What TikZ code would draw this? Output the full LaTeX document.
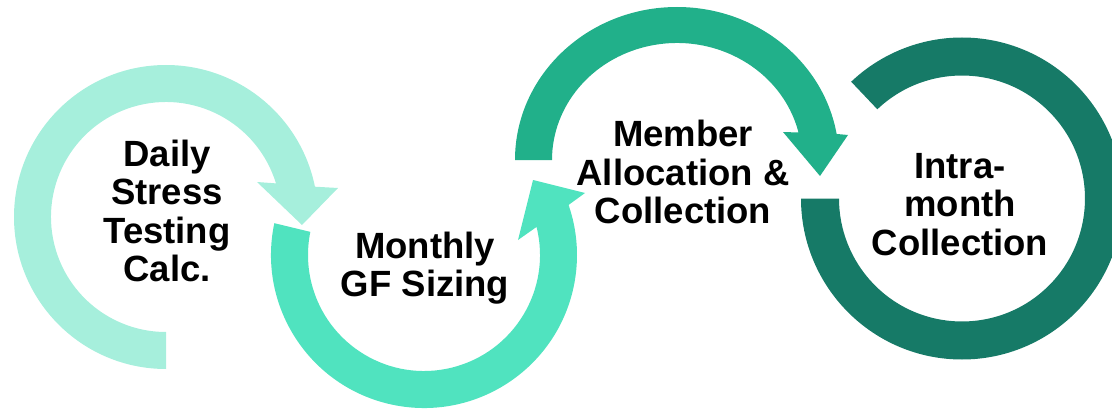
\documentclass[tikz,border=0pt]{standalone}
\usepackage{fontspec}
\setmainfont{Liberation Sans}

\definecolor{mint}{HTML}{A6EFDC}
\definecolor{aqua}{HTML}{50E3BF}
\definecolor{jade}{HTML}{21B08A}
\definecolor{deepteal}{HTML}{167A67}

\tikzstyle{stage} = [align=center, inner sep=0pt, font=\fontsize{36.5}{38.5}\selectfont\bfseries]

\begin{document}
\begin{tikzpicture}[x=1pt, y=1pt]
      \useasboundingbox (0,0) rectangle (1112,408);
      \clip (0,0) rectangle (1112,408);
      % daily loop, clockwise from the bottom
      \begin{scope}[shift={(166,191)}]
        \fill[mint] (270:152) arc[start angle=270, end angle=11.5, radius=152]
          -- (172,29) -- (136,-8) -- (91,35)
          -- (17:115) arc[start angle=17, end angle=270, radius=115] -- cycle;
      \end{scope}
      % monthly loop, under and back up
      \begin{scope}[shift={(424,153)}]
        \fill[aqua] (168:153) arc[start angle=168, end angle=379.1, radius=153]
          -- (161,62) -- (109,75) -- (94,15)
          -- (374:116) arc[start angle=374, end angle=168.5, radius=116] -- cycle;
      \end{scope}
      % allocation loop, slightly wide
      \begin{scope}[shift={(677,248)}]
        \fill[jade] (180:162 and 153) arc[start angle=180, end angle=9.8, x radius=162, y radius=153]
          -- (171,25) -- (143,-16) -- (106,28)
          -- (13.6:125 and 117) arc[start angle=13.6, end angle=180, x radius=125, y radius=117] -- cycle;
      \end{scope}
      % intra-month ring, open at the top left
      \begin{scope}[shift={(962,209.5)}]
        \fill[deepteal] (180:161) arc[start angle=180, end angle=493.5, radius=161]
          -- (493.5:123) arc[start angle=493.5, end angle=180, radius=123] -- cycle;
      \end{scope}
      \node[stage] (daily) at (167,197) {Daily\\Stress\\Testing\\Calc.};
      \node[stage] (monthly) at (425,140) {Monthly\\GF Sizing};
      \node[stage] (member) at (683,236) {Member\\Allocation \&\\Collection};
      \node[stage] (intra) at (960,203.5) {Intra-\\month\\Collection};
    \end{tikzpicture}
\end{document}
